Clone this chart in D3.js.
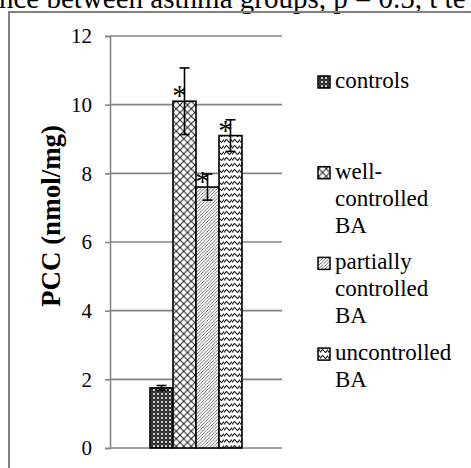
<!DOCTYPE html>
<html>
<head>
<meta charset="utf-8">
<script src="https://cdn.jsdelivr.net/npm/d3@7/dist/d3.min.js"></script>
<style>
html,body{margin:0;padding:0;background:#fff;}
svg{display:block;}
text{font-family:"Liberation Serif","Times New Roman",serif;fill:#000;}
</style>
</head>
<body>
<svg id="chart" width="471" height="468"></svg>
<script>
const captionText = "nce between asthma groups, p = 0.5, t te";
const yTitle = "PCC (nmol/mg)";
const categories = ["PCC"];
const seriesNames = ["controls", "well-controlled BA", "partially controlled BA", "uncontrolled BA"];
const legendLines = [["controls"], ["well-", "controlled", "BA"], ["partially", "controlled", "BA"], ["uncontrolled", "BA"]];
const values = [1.75, 10.1, 7.6, 9.1];
const errors = [0.07, 0.97, 0.38, 0.46];
const marks = ["", "*", "*", "*"];
const yTicks = [0, 2, 4, 6, 8, 10, 12];
const patternIds = ["pCtrl", "pWell", "pPart", "pUnc"];

const FONT = "Liberation Serif, Times New Roman, serif";
const svg = d3.select("#chart");
const defs = svg.append("defs");

// controls: dark with white dots
const p0 = defs.append("pattern").attr("id", "pCtrl").attr("patternUnits", "userSpaceOnUse")
  .attr("width", 4).attr("height", 4);
p0.append("rect").attr("width", 4).attr("height", 4).attr("fill", "#262626");
p0.append("circle").attr("cx", 2).attr("cy", 2).attr("r", 1.1).attr("fill", "#fff");
[[0,0],[4,0],[0,4],[4,4]].forEach(([a,b]) =>
  p0.append("circle").attr("cx", a).attr("cy", b).attr("r", 0.6).attr("fill", "#bbb"));

// well-controlled: diamond lattice
const p1 = defs.append("pattern").attr("id", "pWell").attr("patternUnits", "userSpaceOnUse")
  .attr("width", 7.5).attr("height", 7.5);
p1.append("rect").attr("width", 7.5).attr("height", 7.5).attr("fill", "#fff");
p1.append("path").attr("d", "M0,0L7.5,7.5M7.5,0L0,7.5").attr("stroke", "#222").attr("stroke-width", 1);

// partially: diagonal hatch
const p2 = defs.append("pattern").attr("id", "pPart").attr("patternUnits", "userSpaceOnUse")
  .attr("width", 3.3).attr("height", 3.3);
p2.append("rect").attr("width", 3.3).attr("height", 3.3).attr("fill", "#fff");
p2.append("path").attr("d", "M-0.8,0.8L0.8,-0.8M0,3.3L3.3,0M2.5,4.1L4.1,2.5").attr("stroke", "#444").attr("stroke-width", 0.75);

// uncontrolled: waves
const p3 = defs.append("pattern").attr("id", "pUnc").attr("patternUnits", "userSpaceOnUse")
  .attr("width", 8).attr("height", 6);
p3.append("rect").attr("width", 8).attr("height", 6).attr("fill", "#fff");
p3.append("path").attr("d", "M0,4.5L2,1.8Q2.5,1.3 3,1.8L4,3 L5,4.2Q5.5,4.7 6,4.2L8,1.5")
  .attr("stroke", "#111").attr("stroke-width", 1.1).attr("fill", "none");

// caption (cropped at top, as in the reference)
svg.append("text").attr("x", -1).attr("y", 8).attr("font-size", 29).text(captionText);

// outer border
svg.append("rect").attr("x", 9).attr("y", 12).attr("width", 480).attr("height", 480)
  .attr("fill", "none").attr("stroke", "#808080").attr("stroke-width", 2);

const y = d3.scaleLinear().domain([0, 12]).range([448, 36]);
const x0 = d3.scaleBand().domain(categories).range([110, 282]).paddingOuter(0.435).paddingInner(0);
const x1 = d3.scaleBand().domain(seriesNames).range([0, x0.bandwidth()]);

// gridlines
svg.append("g").selectAll("line").data(yTicks).join("line")
  .attr("x1", 110).attr("x2", 282).attr("y1", d => y(d)).attr("y2", d => y(d))
  .attr("stroke", "#858585").attr("stroke-width", 1.6);

// y axis
const yAxis = d3.axisLeft(y).tickValues(yTicks).tickSize(5).tickPadding(13).tickFormat(d3.format("d"));
const ga = svg.append("g").attr("transform", "translate(110,0)").call(yAxis);
ga.attr("font-family", FONT);
ga.select(".domain").attr("stroke", "#858585").attr("stroke-width", 1.6);
ga.selectAll(".tick line").attr("stroke", "#858585").attr("stroke-width", 1.6);
ga.selectAll(".tick text").style("font-family", FONT)
  .attr("font-size", 21).attr("fill", "#000").attr("dy", "0.33em");

// y title
svg.append("text").attr("transform", "translate(59.5,216) rotate(-90)")
  .attr("text-anchor", "middle").attr("font-size", 27).attr("font-weight", "bold").text(yTitle);

// bars
const gx = x0(categories[0]);
const bars = svg.append("g");
seriesNames.forEach((s, i) => {
  const bx = gx + x1(s);
  bars.append("rect").attr("x", bx).attr("y", y(values[i]))
    .attr("width", x1.bandwidth()).attr("height", y(0) - y(values[i]))
    .attr("fill", `url(#${patternIds[i]})`).attr("stroke", "#000").attr("stroke-width", 1.6);
});
// error bars and significance marks
seriesNames.forEach((s, i) => {
  const cx = gx + x1(s) + x1.bandwidth() / 2;
  const top = y(values[i] + errors[i]), bot = y(values[i] - errors[i]);
  const g = bars.append("g").attr("stroke", "#000").attr("stroke-width", 1.6);
  g.append("line").attr("x1", cx).attr("x2", cx).attr("y1", top).attr("y2", bot);
  g.append("line").attr("x1", cx - 5).attr("x2", cx + 5).attr("y1", top).attr("y2", top);
  g.append("line").attr("x1", cx - 5).attr("x2", cx + 5).attr("y1", bot).attr("y2", bot);
  if (marks[i]) {
    svg.append("text").attr("x", cx - 5).attr("y", y(values[i]) + 4)
      .attr("text-anchor", "middle").attr("font-size", 29).text(marks[i]);
  }
});

// legend
const lg = svg.append("g");
legendLines.forEach((lines, i) => {
  const base = 88 + 90.7 * i;
  lg.append("rect").attr("x", 318).attr("y", base - 12).attr("width", 12).attr("height", 12)
    .attr("fill", `url(#${patternIds[i]})`).attr("stroke", "#000").attr("stroke-width", 1.5);
  lines.forEach((t, j) => {
    lg.append("text").attr("x", 335).attr("y", base + 27 * j).attr("font-size", 23).text(t);
  });
});
</script>
</body>
</html>
